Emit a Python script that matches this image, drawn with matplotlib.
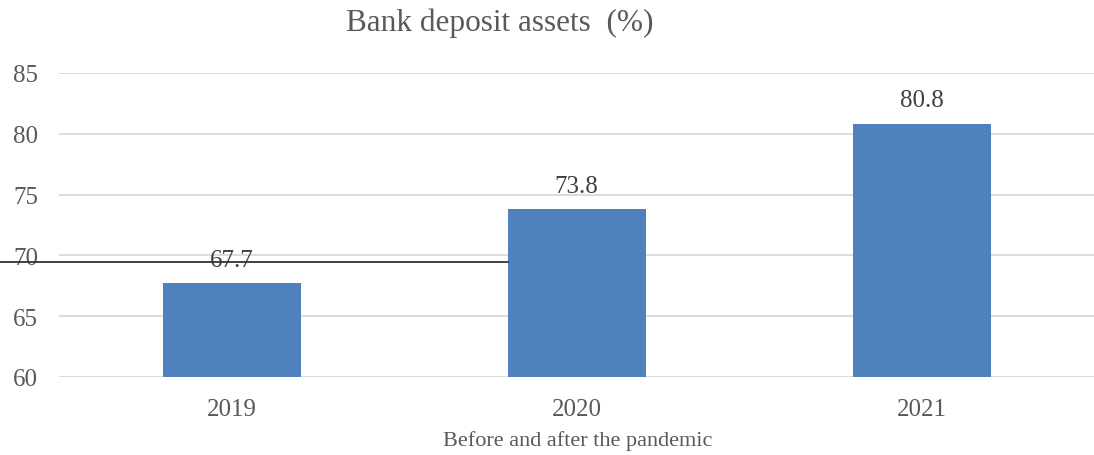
import matplotlib
matplotlib.use("Agg")
import matplotlib.pyplot as plt

# deposit share by year
years = ["2019", "2020", "2021"]
deposit_share = [67.7, 73.8, 80.8]
y_ticks = [60, 65, 70, 75, 80, 85]
# stray rule left across the left half of the chart
rule_level = 69.45
rule_end = 0.8

BAR = "#4F81BD"
TXT = "#595959"
GRID = "#D9D9D9"
SERIF = ["Liberation Serif", "DejaVu Serif"]

plt.rcParams["font.family"] = SERIF

fig = plt.figure(figsize=(10.94, 4.56), dpi=100)
ax = fig.add_axes([59 / 1094, 78 / 456, 1035 / 1094, 304 / 456])

x = list(range(len(years)))
ax.bar(x, deposit_share, width=0.4, color=BAR, zorder=2)

for xi, v in zip(x, deposit_share):
    ax.annotate(f"{v}", (xi, v), xytext=(0, 17), textcoords="offset points",
                ha="center", va="center", fontsize=18, color="#404040")

ax.set_xlim(-0.5, 2.5)
ax.set_ylim(60, 85)
ax.set_yticks(y_ticks)
ax.set_xticks(x)
ax.set_xticklabels(years)
ax.tick_params(axis="both", length=0, labelsize=18, labelcolor=TXT)
ax.tick_params(axis="y", pad=15)
ax.tick_params(axis="x", pad=15)
ax.grid(axis="y", color=GRID, linewidth=1.3, zorder=0)
for s in ax.spines.values():
    s.set_visible(False)

fig.text(578 / 1094, 1 - 441 / 456, "Before and after the pandemic", ha="center",
         va="center", fontsize=16, color=TXT)

# dark rule from the left edge of the figure to the second bar
x_left = ax.transData.inverted().transform(fig.transFigure.transform((0, 0)))[0]
ax.plot([x_left, rule_end], [rule_level, rule_level], color="#333333",
        linewidth=1.3, clip_on=False, zorder=3)

fig.text(500 / 1094, 1 - 23 / 456, "Bank deposit assets  (%)", ha="center",
         va="center", fontsize=22.5, color=TXT)

fig.savefig("out.png", dpi=100)
